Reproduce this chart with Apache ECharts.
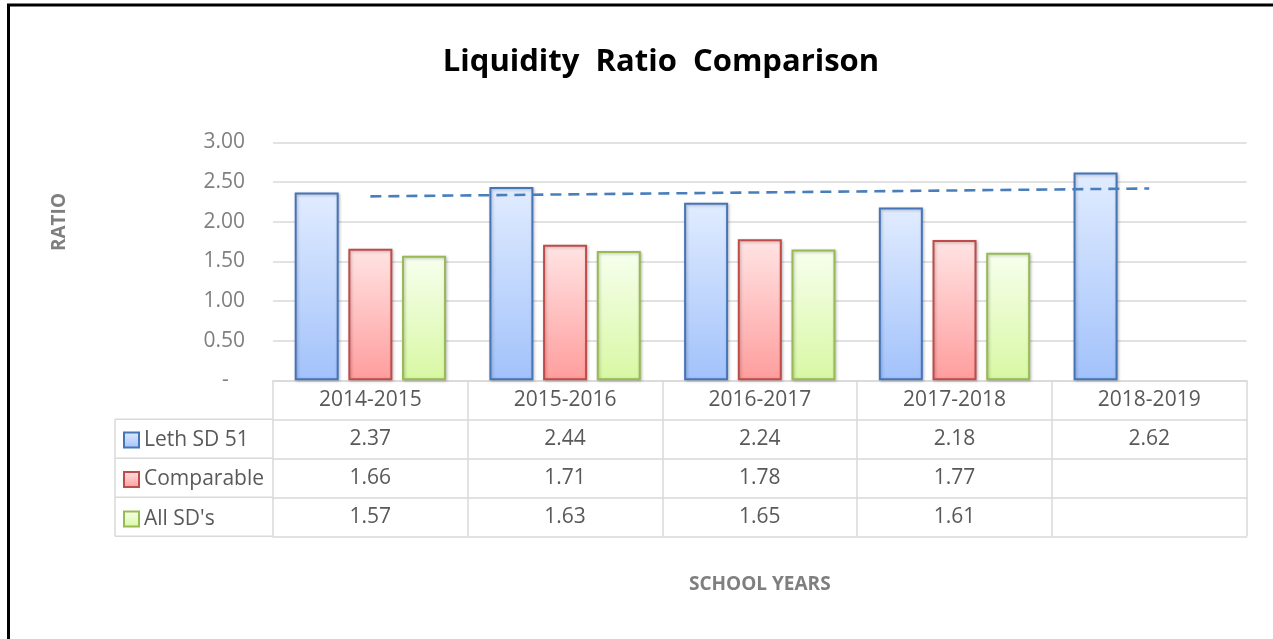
<!DOCTYPE html>
<html>
<head>
<meta charset="utf-8">
<script src="https://cdn.jsdelivr.net/npm/echarts@6/dist/echarts.min.js"></script>
<style>
html,body{margin:0;padding:0;background:#fff;}
#chart{width:1273px;height:639px;}
</style>
</head>
<body>
<div id="chart"></div>
<script>
var years = ['2014-2015', '2015-2016', '2016-2017', '2017-2018', '2018-2019'];
var leth = [2.37, 2.44, 2.24, 2.18, 2.62];
var comparable = [1.66, 1.71, 1.78, 1.77, null];
var allSDs = [1.57, 1.63, 1.65, 1.61, null];
// linear trendline of Leth SD 51 (endpoints)
var trend = [2.32, null, null, null, 2.42];
var seriesNames = ['Leth SD 51', 'Comparable', "All SD's"];
var yTicks = [0, 0.5, 1, 1.5, 2, 2.5, 3];

var FONT = '"Open Sans", "Noto Sans", sans-serif';
var GRID_L = 273, GRID_R = 1246.6, GRID_T = 142.5, GRID_B = 380.3;
var ROW = 39;
var LINE = '#d9d9d9';

function fmt(arr) { return arr.map(function (v) { return v == null ? '' : v.toFixed(2); }); }

function grad(top, bottom) {
  return new echarts.graphic.LinearGradient(0, 0, 0, 1, [
    { offset: 0, color: top }, { offset: 1, color: bottom }
  ]);
}

var chart = echarts.init(document.getElementById('chart'), null, { renderer: 'canvas' });

function rowAxis(data, offset, showLabel) {
  return {
    type: 'category', gridIndex: 0, position: 'bottom', offset: offset,
    data: data,
    axisLine: { show: true, lineStyle: { color: LINE, width: 1.5 } },
    axisTick: { show: false },
    axisLabel: { show: showLabel, interval: 0, margin: 9, color: '#595959', fontSize: 21, fontFamily: FONT, lineHeight: 21 },
    splitLine: { show: false }
  };
}

var barShadow = { shadowBlur: 3, shadowColor: 'rgba(0,0,0,0.25)', shadowOffsetX: 1, shadowOffsetY: 1 };

var option = {
  animation: false,
  backgroundColor: '#fff',
  grid: { left: GRID_L, right: 1273 - GRID_R, top: GRID_T, bottom: 639 - GRID_B, containLabel: false },
  legend: {
    data: seriesNames,
    orient: 'vertical', left: 123, top: 429.5, padding: 0,
    itemWidth: 15, itemHeight: 15, itemGap: 18.5,
    icon: 'rect',
    textStyle: { color: '#595959', fontSize: 21, fontFamily: FONT, lineHeight: 21 },
    selectedMode: false
  },
  xAxis: [
    {
      type: 'category', gridIndex: 0, position: 'bottom', data: years,
      axisLine: { show: true, lineStyle: { color: LINE, width: 1.5 } },
      axisTick: { show: true, length: ROW * 4, interval: 0, lineStyle: { color: LINE, width: 1.5 } },
      axisLabel: { interval: 0, margin: 9, color: '#595959', fontSize: 21, fontFamily: FONT, lineHeight: 21 },
      splitLine: { show: false }
    },
    rowAxis(fmt(leth), ROW, true),
    rowAxis(fmt(comparable), ROW * 2, true),
    rowAxis(fmt(allSDs), ROW * 3, true),
    rowAxis(years.map(function () { return ''; }), ROW * 4, false)
  ],
  yAxis: {
    type: 'value', min: yTicks[0], max: yTicks[yTicks.length - 1], interval: 0.5,
    axisLine: { show: false }, axisTick: { show: false },
    axisLabel: {
      margin: 28, color: '#7f7f7f', fontSize: 21, fontFamily: FONT,
      formatter: function (v) { return v === 0 ? '-   ' : v.toFixed(2); }
    },
    splitLine: { show: true, lineStyle: { color: LINE, width: 1.5 } }
  },
  series: [
    {
      name: seriesNames[0], type: 'bar', data: leth, barWidth: 44, barGap: '22%',
      itemStyle: Object.assign({ color: grad('#e1ecff', '#a2c2fb'), borderColor: '#4575b9', borderWidth: 2 }, barShadow)
    },
    {
      name: seriesNames[1], type: 'bar', data: comparable, barWidth: 44, barGap: '22%',
      itemStyle: Object.assign({ color: grad('#ffe4e4', '#ff9d9d'), borderColor: '#bf4c49', borderWidth: 2 }, barShadow)
    },
    {
      name: seriesNames[2], type: 'bar', data: allSDs, barWidth: 44, barGap: '22%',
      itemStyle: Object.assign({ color: grad('#f7ffee', '#d8f8a3'), borderColor: '#97ba53', borderWidth: 2 }, barShadow)
    },
    {
      name: 'Trend', type: 'line', data: trend, connectNulls: true, symbol: 'none', z: 5,
      lineStyle: { color: '#4a7ebb', width: 2.6, type: [11, 7] },
      silent: true
    }
  ],
  graphic: [
    { type: 'rect', shape: { x: 8.5, y: 5, width: 1400, height: 800 }, style: { fill: null, stroke: '#000', lineWidth: 3 }, silent: true, z: 100 },
    { type: 'text', x: 661, y: 62, style: { text: 'Liquidity  Ratio  Comparison', fill: '#000', font: 'bold 31px ' + FONT, textAlign: 'center', textVerticalAlign: 'middle' } },
    { type: 'text', x: 60, y: 222, rotation: Math.PI / 2, style: { text: 'RATIO', fill: '#7f7f7f', font: 'bold 19px ' + FONT, textAlign: 'center', textVerticalAlign: 'middle' } },
    { type: 'text', x: (GRID_L + GRID_R) / 2, y: 585, style: { text: 'SCHOOL YEARS', fill: '#7f7f7f', font: 'bold 19px ' + FONT, textAlign: 'center', textVerticalAlign: 'middle' } },
    // left legend column of the data table
    { type: 'line', shape: { x1: 115, y1: GRID_B + ROW, x2: GRID_L, y2: GRID_B + ROW }, style: { stroke: LINE, lineWidth: 1.5 } },
    { type: 'line', shape: { x1: 115, y1: GRID_B + ROW * 2, x2: GRID_L, y2: GRID_B + ROW * 2 }, style: { stroke: LINE, lineWidth: 1.5 } },
    { type: 'line', shape: { x1: 115, y1: GRID_B + ROW * 3, x2: GRID_L, y2: GRID_B + ROW * 3 }, style: { stroke: LINE, lineWidth: 1.5 } },
    { type: 'line', shape: { x1: 115, y1: GRID_B + ROW * 4, x2: GRID_L, y2: GRID_B + ROW * 4 }, style: { stroke: LINE, lineWidth: 1.5 } },
    { type: 'line', shape: { x1: 115, y1: GRID_B + ROW, x2: 115, y2: GRID_B + ROW * 4 }, style: { stroke: LINE, lineWidth: 1.5 } }
  ]
};

chart.setOption(option);
</script>
</body>
</html>
